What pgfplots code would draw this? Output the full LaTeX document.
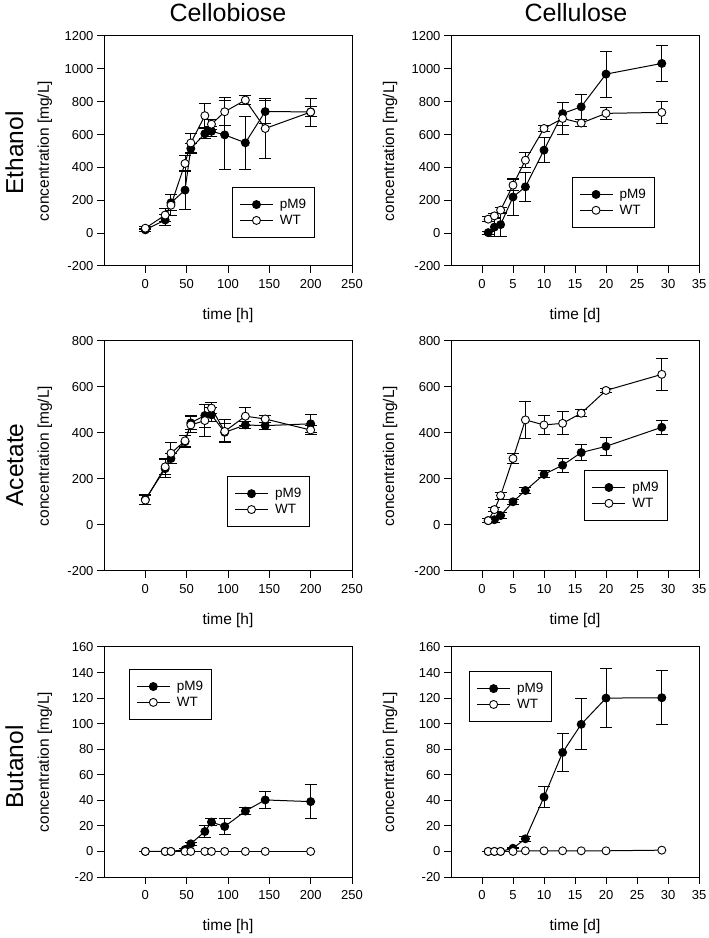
\documentclass[border=0pt]{standalone}
\usepackage{fontspec}
\setmainfont{Liberation Sans}
\usepackage{pgfplots}
\pgfplotsset{compat=1.18}

\pgfplotsset{
  panel/.style={
    scale only axis, width=248pt, height=230pt,
    axis line style={line width=1pt},
    every tick/.style={black, line width=1pt},
    tick align=outside, xtick pos=bottom, ytick pos=left,
    major tick length=7pt,
    /pgf/number format/assume math mode=true,
    /pgf/number format/1000 sep={},
    ticklabel style={font=\fontsize{13}{15}\selectfont},
    xticklabel style={yshift=-3pt},
    label style={font=\fontsize{15.5}{18}\selectfont},
    xlabel style={at={(axis description cs:0.5,-0.215)}, anchor=center},
    ylabel={concentration [mg/L]},
    legend cell align=left,
    legend style={draw=black, line width=1pt, font=\fontsize{13.5}{15}\selectfont,
      anchor=north west, inner xsep=7pt, inner ysep=10pt, row sep=2pt,
      column sep=5pt, nodes={inner sep=1.5pt}},
    legend image code/.code={\draw[mark repeat=2,mark phase=2] plot coordinates {(0pt,0pt) (16.5pt,0pt) (33pt,0pt)};},
  },
  hours/.style={xmin=-50, xmax=250, xtick={0,50,...,250}, xlabel={time [h]},
    ylabel style={at={(axis description cs:-0.238,0.5)}, anchor=center}},
  days/.style={xmin=-5, xmax=35, xtick={0,5,...,35}, xlabel={time [d]},
    ylabel style={at={(axis description cs:-0.246,0.5)}, anchor=center}},
  eth/.style={ymin=-200, ymax=1200, ytick={-200,0,...,1200}},
  ace/.style={ymin=-200, ymax=800, ytick={-200,0,...,800}},
  but/.style={ymin=-20, ymax=160, ytick={-20,0,...,160}},
  series/.style={black, line width=1pt, mark=*, mark size=4pt},
  errs/.style={error bars/.cd, y dir=both, y explicit,
    error mark options={rotate=90, mark size=6pt, line width=1pt, black},
    error bar style={line width=1pt, black}},
  pm9/.style={series, mark options={fill=black, line width=0.9pt}, errs},
  wt/.style={series, mark options={fill=white, line width=0.9pt}, errs},
  wtnoerr/.style={series, mark options={fill=white, line width=0.9pt}},
}

\begin{document}
\begin{tikzpicture}
\path[use as bounding box] (0pt,0pt) rectangle (709pt,938pt);

% titles and row names
\node[anchor=base, font=\fontsize{25}{28}\selectfont] at (228pt,916pt) {Cellobiose};
\node[anchor=base, font=\fontsize{25}{28}\selectfont] at (576pt,916pt) {Cellulose};
\node[anchor=base, rotate=90, font=\fontsize{24.5}{28}\selectfont] at (23pt,785pt) {Ethanol};
\node[anchor=base, rotate=90, font=\fontsize{24.5}{28}\selectfont] at (23pt,473pt) {Acetate};
\node[anchor=base, rotate=90, font=\fontsize{24.5}{28}\selectfont] at (23pt,171pt) {Butanol};

% Ethanol - cellobiose
\begin{axis}[panel, hours, eth, at={(104pt,672pt)}, anchor=south west,
  legend style={at={(axis description cs:0.516,0.343)}}]
\addplot+[pm9] coordinates {
  (0,20) +- (0,10) (24,80) +- (0,35) (31,185) +- (0,50) (48,262) +- (0,120)
  (55,515) +- (0,30) (72,605) +- (0,30) (80,620) +- (0,30) (96,598) +- (0,210)
  (121,550) +- (0,160) (145,740) +- (0,70) (200,738) +- (0,30)};
\addplot+[wt] coordinates {
  (0,30) +- (0,10) (24,110) +- (0,40) (31,170) +- (0,65) (48,424) +- (0,50)
  (55,549) +- (0,60) (72,715) +- (0,75) (80,663) +- (0,30) (96,739) +- (0,85)
  (121,810) +- (0,25) (145,637) +- (0,180) (200,737) +- (0,85)};
\legend{pM9,WT}
\end{axis}

% Ethanol - cellulose
\begin{axis}[panel, days, eth, at={(451pt,672pt)}, anchor=south west,
  legend style={at={(axis description cs:0.486,0.387)}}]
\addplot+[pm9] coordinates {
  (1,3) +- (0,10) (2,37) +- (0,60) (3,52) +- (0,70) (5,220) +- (0,110)
  (7,282) +- (0,90) (10,505) +- (0,75) (13,728) +- (0,70) (16,769) +- (0,75)
  (20,968) +- (0,140) (29,1033) +- (0,110)};
\addplot+[wt] coordinates {
  (1,85) +- (0,15) (2,105) +- (0,15) (3,140) +- (0,15) (5,292) +- (0,35)
  (7,444) +- (0,45) (10,637) +- (0,20) (13,698) +- (0,100) (16,670) +- (0,20)
  (20,729) +- (0,35) (29,735) +- (0,65)};
\legend{pM9,WT}
\end{axis}

% Acetate - cellobiose
\begin{axis}[panel, hours, ace, at={(104pt,367pt)}, anchor=south west,
  legend style={at={(axis description cs:0.496,0.412)}}]
\addplot+[pm9] coordinates {
  (0,111) +- (0,20) (24,245) +- (0,40) (31,289) +- (0,20) (48,362) +- (0,25)
  (55,444) +- (0,30) (72,476) +- (0,50) (80,479) +- (0,30) (96,403) +- (0,40)
  (121,435) +- (0,15) (145,432) +- (0,15) (200,440) +- (0,40)};
\addplot+[wt] coordinates {
  (0,108) +- (0,20) (24,253) +- (0,35) (31,312) +- (0,45) (48,366) +- (0,25)
  (55,435) +- (0,35) (72,454) +- (0,70) (80,508) +- (0,25) (96,407) +- (0,50)
  (121,473) +- (0,40) (145,461) +- (0,15) (200,413) +- (0,20)};
\legend{pM9,WT}
\end{axis}

% Acetate - cellulose
\begin{axis}[panel, days, ace, at={(451pt,367pt)}, anchor=south west,
  legend style={at={(axis description cs:0.538,0.439)}}]
\addplot+[pm9] coordinates {
  (1,19) +- (0,8) (2,23) +- (0,10) (3,41) +- (0,12) (5,101) +- (0,12)
  (7,150) +- (0,15) (10,220) +- (0,15) (13,260) +- (0,30) (16,315) +- (0,35)
  (20,342) +- (0,40) (29,425) +- (0,30)};
\addplot+[wt] coordinates {
  (1,19) +- (0,8) (2,67) +- (0,10) (3,128) +- (0,15) (5,289) +- (0,20)
  (7,457) +- (0,80) (10,435) +- (0,40) (13,442) +- (0,50) (16,486) +- (0,15)
  (20,585) +- (0,10) (29,655) +- (0,70)};
\legend{pM9,WT}
\end{axis}

% Butanol - cellobiose
\begin{axis}[panel, hours, but, at={(104pt,61pt)}, anchor=south west,
  legend style={at={(axis description cs:0.10,0.904)}}]
\addplot+[pm9] coordinates {
  (0,0) +- (0,0) (24,0) +- (0,0) (31,0) +- (0,0) (48,1.5) +- (0,0.5)
  (55,6) +- (0,1) (72,15.6) +- (0,5) (80,23) +- (0,3) (96,19.5) +- (0,6)
  (121,31.6) +- (0,3) (145,40.3) +- (0,6.5) (200,39) +- (0,13.5)};
\addplot+[wtnoerr] coordinates {
  (0,0) (24,0) (31,0) (48,0) (55,0) (72,0) (80,0) (96,0) (121,0) (145,0) (200,0)};
\legend{pM9,WT}
\end{axis}

% Butanol - cellulose
\begin{axis}[panel, days, but, at={(451pt,61pt)}, anchor=south west,
  legend style={at={(axis description cs:0.073,0.895)}}]
\addplot+[pm9] coordinates {
  (1,0) +- (0,0) (2,0) +- (0,0) (3,0) +- (0,0) (5,2.5) +- (0,0.5)
  (7,9.9) +- (0,2) (10,42.6) +- (0,8) (13,77.5) +- (0,15) (16,99.5) +- (0,20)
  (20,120) +- (0,23) (29,120.3) +- (0,21)};
\addplot+[wtnoerr] coordinates {
  (1,0) (2,0) (3,0) (5,0) (7,0.5) (10,0.5) (13,0.5) (16,0.5) (20,0.5) (29,1)};
\legend{pM9,WT}
\end{axis}
\end{tikzpicture}
\end{document}
